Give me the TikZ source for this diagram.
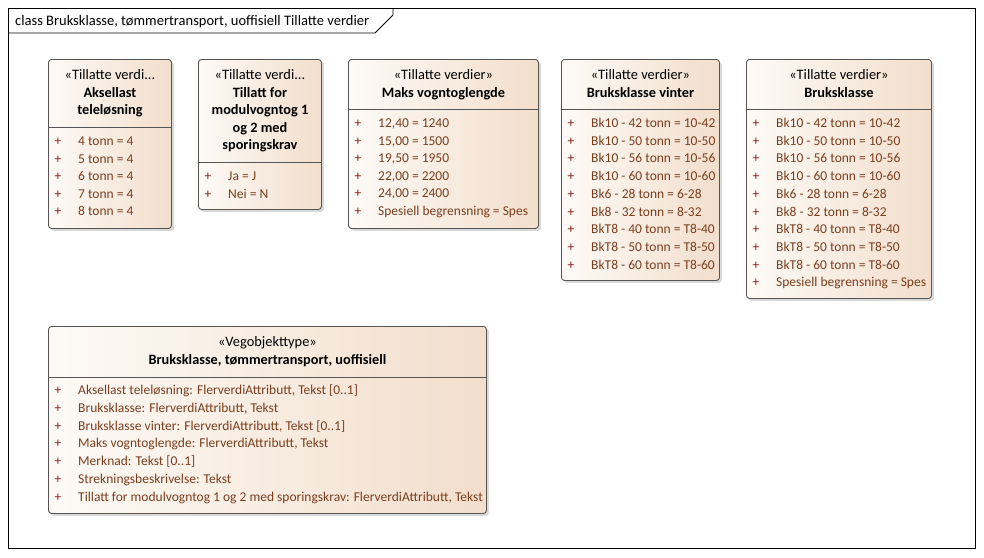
\documentclass[tikz,border=0pt]{standalone}
\usepackage{fontspec}
\setmainfont{Carlito}
\usetikzlibrary{shadows}
\definecolor{klassevenstre}{RGB}{253,250,246}
\definecolor{klassehoyre}{RGB}{242,222,204}
\definecolor{klassekant}{RGB}{85,85,85}
\definecolor{verditekst}{RGB}{122,62,30}
\definecolor{plusstegn}{RGB}{140,30,30}

\tikzset{
  klasse/.style={rectangle, draw=klassekant, line width=0.9pt, rounded corners=3pt,
    left color=klassevenstre, right color=klassehoyre, anchor=north west, inner sep=0pt,
    drop shadow={shadow xshift=2.5pt, shadow yshift=-2.5pt, opacity=0.3, fill=gray}},
  hode/.style={anchor=base, inner sep=0pt, font=\fontsize{14.4}{16}\selectfont},
  navn/.style={hode, font=\fontsize{14.3}{16}\selectfont\bfseries},
  verdi/.style={anchor=base west, inner sep=0pt, text=verditekst, font=\fontsize{13.5}{15}\selectfont},
  pluss/.style={anchor=base, inner sep=0pt, text=plusstegn, font=\fontsize{13.5}{15}\selectfont},
  skille/.style={draw=klassekant, line width=0.9pt}
}

\begin{document}
\begin{tikzpicture}[x=1pt,y=-1pt]
  \useasboundingbox (0,0) rectangle (984,557);
  % ramme
  \draw[line width=0.8pt] (8,8) rectangle (975,548);
  \draw[line width=0.8pt] (8,33) -- (375,33) -- (393,15) -- (393,8);
  \node[anchor=base west, inner sep=0pt, font=\fontsize{14.5}{16}\selectfont] (tittel) at (15,25)
    {class Bruksklasse, tømmertransport, uoffisiell Tillatte verdier};

  % Aksellast teleløsning
  \node[klasse, minimum width=123, minimum height=169] (aksel) at (48,59) {};
  \draw[skille] (aksel.west |- 0,127) -- (aksel.east |- 0,127);
  \node[hode] (aksel-st) at (aksel.center |- 0,79.5) {«Tillatte verdi...};
  \node[navn] (aksel-n1) at (aksel.center |- 0,97) {Aksellast};
  \node[navn] (aksel-n2) at (aksel.center |- 0,114.5) {teleløsning};
  \foreach \t [count=\i from 0] in {4 tonn = 4, 5 tonn = 4, 6 tonn = 4, 7 tonn = 4, 8 tonn = 4} {
    \node[pluss] (aksel-p\i) at (58,145.5+17.6*\i) {+};
    \node[verdi] (aksel-v\i) at (78,145.5+17.6*\i) {\t};
  }

  % Tillatt for modulvogntog
  \node[klasse, minimum width=123, minimum height=150] (modul) at (198,59) {};
  \draw[skille] (modul.west |- 0,162) -- (modul.east |- 0,162);
  \node[hode] (modul-st) at (modul.center |- 0,79.5) {«Tillatte verdi...};
  \node[navn] (modul-n1) at (modul.center |- 0,97) {Tillatt for};
  \node[navn] (modul-n2) at (modul.center |- 0,114.5) {modulvogntog 1};
  \node[navn] (modul-n3) at (modul.center |- 0,132) {og 2 med};
  \node[navn] (modul-n4) at (modul.center |- 0,149.5) {sporingskrav};
  \foreach \t [count=\i from 0] in {Ja = J, Nei = N} {
    \node[pluss] (modul-p\i) at (208,180.5+17.6*\i) {+};
    \node[verdi] (modul-v\i) at (228,180.5+17.6*\i) {\t};
  }

  % Maks vogntoglengde
  \node[klasse, minimum width=190, minimum height=169] (maks) at (348,59) {};
  \draw[skille] (maks.west |- 0,109) -- (maks.east |- 0,109);
  \node[hode] (maks-st) at (maks.center |- 0,79.5) {«Tillatte verdier»};
  \node[navn] (maks-n1) at (maks.center |- 0,97) {Maks vogntoglengde};
  \foreach \t [count=\i from 0] in {{12,40 = 1240}, {15,00 = 1500}, {19,50 = 1950},
      {22,00 = 2200}, {24,00 = 2400}, Spesiell begrensning = Spes} {
    \node[pluss] (maks-p\i) at (358,127.5+17.6*\i) {+};
    \node[verdi] (maks-v\i) at (378,127.5+17.6*\i) {\t};
  }

  % Bruksklasse vinter
  \node[klasse, minimum width=158, minimum height=221] (vinter) at (561,59) {};
  \draw[skille] (vinter.west |- 0,109) -- (vinter.east |- 0,109);
  \node[hode] (vinter-st) at (vinter.center |- 0,79.5) {«Tillatte verdier»};
  \node[navn] (vinter-n1) at (vinter.center |- 0,97) {Bruksklasse vinter};
  \foreach \t [count=\i from 0] in {Bk10 - 42 tonn = 10-42, Bk10 - 50 tonn = 10-50,
      Bk10 - 56 tonn = 10-56, Bk10 - 60 tonn = 10-60, Bk6 - 28 tonn = 6-28,
      Bk8 - 32 tonn = 8-32, BkT8 - 40 tonn = T8-40, BkT8 - 50 tonn = T8-50,
      BkT8 - 60 tonn = T8-60} {
    \node[pluss] (vinter-p\i) at (571,127.5+17.7*\i) {+};
    \node[verdi] (vinter-v\i) at (591,127.5+17.7*\i) {\t};
  }

  % Bruksklasse
  \node[klasse, minimum width=185, minimum height=239] (bk) at (746,59) {};
  \draw[skille] (bk.west |- 0,109) -- (bk.east |- 0,109);
  \node[hode] (bk-st) at (bk.center |- 0,79.5) {«Tillatte verdier»};
  \node[navn] (bk-n1) at (bk.center |- 0,97) {Bruksklasse};
  \foreach \t [count=\i from 0] in {Bk10 - 42 tonn = 10-42, Bk10 - 50 tonn = 10-50,
      Bk10 - 56 tonn = 10-56, Bk10 - 60 tonn = 10-60, Bk6 - 28 tonn = 6-28,
      Bk8 - 32 tonn = 8-32, BkT8 - 40 tonn = T8-40, BkT8 - 50 tonn = T8-50,
      BkT8 - 60 tonn = T8-60, Spesiell begrensning = Spes} {
    \node[pluss] (bk-p\i) at (756,127.5+17.7*\i) {+};
    \node[verdi] (bk-v\i) at (776,127.5+17.7*\i) {\t};
  }

  % Vegobjekttype
  \node[klasse, minimum width=438, minimum height=187] (vego) at (48,326) {};
  \draw[skille] (vego.west |- 0,377) -- (vego.east |- 0,377);
  \node[hode] (vego-st) at (vego.center |- 0,346.5) {«Vegobjekttype»};
  \node[navn] (vego-n1) at (vego.center |- 0,364.5) {Bruksklasse, tømmertransport, uoffisiell};
  \foreach \t [count=\i from 0] in {{Aksellast teleløsning: FlerverdiAttributt, Tekst [0..1]},
      {Bruksklasse: FlerverdiAttributt, Tekst}, {Bruksklasse vinter: FlerverdiAttributt, Tekst [0..1]},
      {Maks vogntoglengde: FlerverdiAttributt, Tekst}, {Merknad: Tekst [0..1]},
      {Strekningsbeskrivelse: Tekst},
      {Tillatt for modulvogntog 1 og 2 med sporingskrav: FlerverdiAttributt, Tekst}} {
    \node[pluss] (vego-p\i) at (58,394.5+17.8*\i) {+};
    \node[verdi] (vego-v\i) at (78,394.5+17.8*\i) {\t};
  }
\end{tikzpicture}
\end{document}
